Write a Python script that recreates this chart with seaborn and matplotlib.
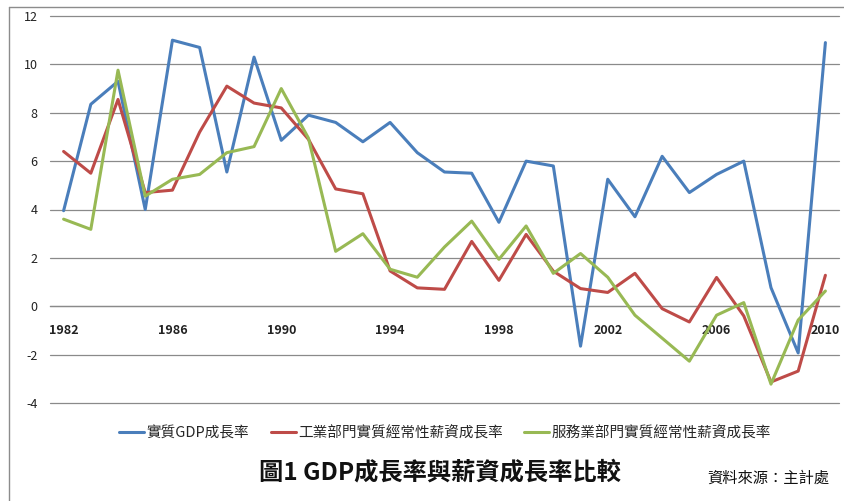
import numpy as np
import pandas as pd
import matplotlib.pyplot as plt
import seaborn as sns
from matplotlib.lines import Line2D

# -------------------
# Data
# -------------------
years = list(range(1982, 2011))

gdp_growth = [3.95, 8.35, 9.3, 4.0, 11.0, 10.7, 5.55, 10.3, 6.86, 7.9,
              7.6, 6.8, 7.6, 6.35, 5.55, 5.5, 3.47, 6.0, 5.8, -1.65,
              5.25, 3.7, 6.2, 4.7, 5.45, 6.0, 0.77, -1.93, 10.9]

industry_wage = [6.4, 5.5, 8.55, 4.7, 4.8, 7.2, 9.1, 8.4, 8.2, 6.9,
                 4.85, 4.65, 1.46, 0.76, 0.7, 2.68, 1.07, 2.97, 1.45, 0.73,
                 0.57, 1.36, -0.1, -0.65, 1.19, -0.4, -3.13, -2.68, 1.28]

service_wage = [3.6, 3.18, 9.76, 4.55, 5.25, 5.45, 6.35, 6.6, 9.0, 6.95,
                2.27, 3.0, 1.53, 1.2, 2.45, 3.52, 1.94, 3.32, 1.36, 2.18,
                1.2, -0.37, -1.32, -2.27, -0.37, 0.15, -3.22, -0.57, 0.63]

series_names = ["實質GDP成長率", "工業部門實質經常性薪資成長率", "服務業部門實質經常性薪資成長率"]
series_colors = ["#4A7EBB", "#BE4B48", "#98B954"]

y_ticks = list(range(-4, 13, 2))
x_label_years = list(range(1982, 2011, 4))

title_text = "圖1 GDP成長率與薪資成長率比較"
source_text = "資料來源：主計處"

# long-form frame for seaborn
df = pd.DataFrame({
    "year": years * 3,
    "value": gdp_growth + industry_wage + service_wage,
    "series": [series_names[0]] * len(years)
              + [series_names[1]] * len(years)
              + [series_names[2]] * len(years),
})

# -------------------
# Plot
# -------------------
sns.set_theme(style="white")
plt.rcParams['font.family'] = ['Noto Sans CJK TC', 'DejaVu Sans']

fig = plt.figure(figsize=(8.44, 5.01), dpi=100)
ax = fig.add_axes([50 / 844, 1 - 403 / 501, 789 / 844, 387 / 501])

# horizontal gridlines
for yv in y_ticks:
    ax.axhline(yv, color="#8a8a8a", linewidth=0.9, zorder=0, clip_on=False)

sns.lineplot(data=df, x="year", y="value", hue="series",
             palette=dict(zip(series_names, series_colors)),
             linewidth=2.2, ax=ax, legend=False, zorder=3)

ax.set_xlim(1981.5, 2010.5)
ax.set_ylim(-4, 12)
ax.set_xlabel("")
ax.set_ylabel("")

for side in ["left", "right", "top"]:
    ax.spines[side].set_visible(False)
ax.spines["bottom"].set_position(("data", 0))
ax.spines["bottom"].set_color("#8a8a8a")
ax.spines["bottom"].set_linewidth(0.9)

ax.set_yticks(y_ticks)
ax.set_yticklabels([str(v) for v in y_ticks])
ax.tick_params(axis="y", length=0, pad=9, labelsize=9, labelcolor="#222222")

ax.set_xticks(x_label_years)
ax.set_xticklabels([str(v) for v in x_label_years], fontweight="bold")
ax.set_xticks(np.arange(1981.5, 2011, 1.0), minor=True)
ax.tick_params(axis="x", which="major", length=0, pad=13, labelsize=9, labelcolor="#222222")
ax.tick_params(axis="x", which="minor", length=5, direction="inout", color="#8a8a8a", width=0.9)

# outer chart border (left and top)
fig.add_artist(Line2D([9 / 844, 9 / 844], [0, 1 - 7 / 501], transform=fig.transFigure,
                      color="#8c8c8c", linewidth=1))
fig.add_artist(Line2D([9 / 844, 1], [1 - 7 / 501, 1 - 7 / 501], transform=fig.transFigure,
                      color="#8c8c8c", linewidth=1))

# legend
handles = [Line2D([0], [0], color=c, linewidth=2.2) for c in series_colors]
fig.legend(handles, series_names, loc="center", bbox_to_anchor=(445 / 844, 1 - 433 / 501),
           ncol=3, frameon=False, fontsize=10.5, handlelength=1.7, handletextpad=0.15,
           columnspacing=1.5)

fig.text(440 / 844, 1 - 473 / 501, title_text, ha="center", va="center",
         fontsize=17.5, fontweight="bold", color="#111111")
fig.text(768 / 844, 1 - 478 / 501, source_text, ha="center", va="center",
         fontsize=11, color="#111111")

fig.savefig("out.png", dpi=100)
